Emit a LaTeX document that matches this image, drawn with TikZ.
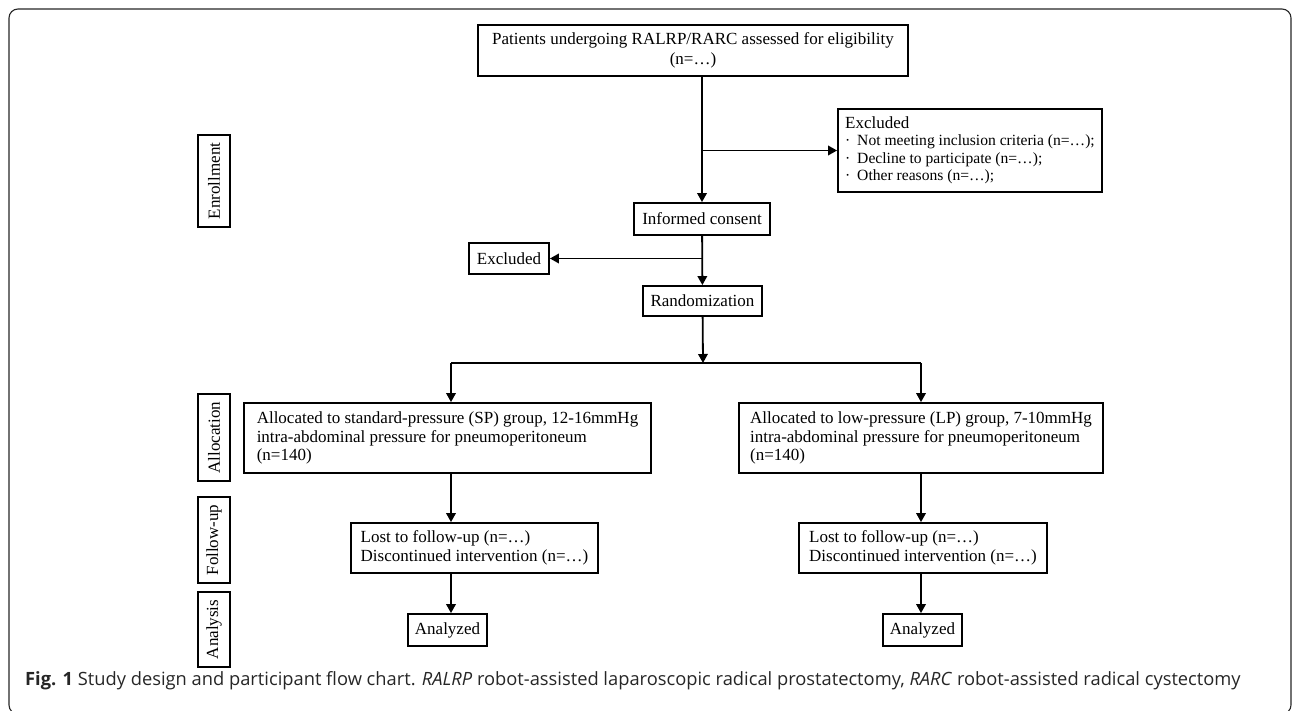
\documentclass[tikz,border=0pt]{standalone}
\usepackage{fontspec}
\setmainfont{Liberation Serif}
\newfontfamily\capfont{Open Sans}
\usetikzlibrary{positioning, arrows.meta}
\newcommand{\exitem}{\fontsize{15.6}{17.5}\selectfont\makebox[12pt][l]{·}}

\begin{document}
\begin{tikzpicture}[
    x=1pt, y=-1pt,
    every node/.style={font=\fontsize{17}{18.5}\selectfont},
    box/.style={rectangle, draw, line width=1.8pt, inner xsep=6pt, inner ysep=3pt, align=center},
    listbox/.style={box, align=left},
    phase/.style={box, rotate=90, minimum height=32pt, inner xsep=2pt},
    arr/.style={-{Triangle[length=9pt, width=9.5pt]}, line width=1.8pt},
    link/.style={line width=1.8pt},
    frame/.style={line width=1.1pt, black!85, rounded corners=9pt},
    caption/.style={font=\capfont\fontsize{18.3}{20}\selectfont, text=black!85, anchor=base west, inner sep=0pt},
]
\path[use as bounding box] (0,0) rectangle (1293,711);
\clip (0,0) rectangle (1293,711);
\draw[frame] (9,9) rectangle (1291,714);

% ---------- enrollment ----------
\node[box, minimum width=430pt, minimum height=51pt, font=\fontsize{17}{20}\selectfont] (screen) at (693,50.5)
     {Patients undergoing RALRP/RARC assessed for eligibility\\(n=…)};
\node[box, minimum width=136pt, minimum height=32pt] (consent) at (702,219) {Informed consent};
\node[listbox, minimum width=264pt, minimum height=83pt, inner xsep=5pt] (exclA) at (970,150.5)
     {Excluded\\[-1.5pt]
      \exitem Not meeting inclusion criteria (n=…);\\[-1pt]
      \exitem Decline to participate (n=…);\\[-1pt]
      \exitem Other reasons (n=…);};
\node[box, minimum width=80pt, minimum height=31pt] (exclB) at (509,258.5) {Excluded};
\node[box, minimum width=119pt, minimum height=30pt] (rand) at (702.5,301) {Randomization};

\draw[arr] (consent.north |- screen.south) -- (consent.north);
\draw[arr] (consent.north |- exclA.west) -- (exclA.west);
\draw[arr] (consent) -- (rand);
\draw[arr] (rand.north |- exclB.east) -- (exclB.east);

% ---------- allocation ----------
\coordinate (split) at (703,363);
\coordinate (splitL) at (451,363);
\coordinate (splitR) at (921,363);
\node[listbox, minimum width=407pt, minimum height=70pt] (sp) at (447.5,438)
     {Allocated to standard-pressure (SP) group, 12-16mmHg\\intra-abdominal pressure for pneumoperitoneum\\(n=140)};
\node[listbox, minimum width=364pt, minimum height=70pt] (lp) at (921,438)
     {Allocated to low-pressure (LP) group, 7-10mmHg\\intra-abdominal pressure for pneumoperitoneum\\(n=140)};

\draw[arr] (rand) -- (split);
\draw[link] (splitL) -- (splitR);
\draw[arr] (splitL) -- (splitL |- sp.north);
\draw[arr] (splitR) -- (splitR |- lp.north);

% ---------- follow-up / analysis ----------
\node[listbox, minimum width=247pt, minimum height=50pt] (fuL) at (474.5,548)
     {Lost to follow-up (n=…)\\Discontinued intervention (n=…)};
\node[listbox, minimum width=248pt, minimum height=50pt] (fuR) at (923,548)
     {Lost to follow-up (n=…)\\Discontinued intervention (n=…)};
\node[box, minimum width=79pt, minimum height=32pt] (anL) at (447.5,630) {Analyzed};
\node[box, minimum width=79pt, minimum height=32pt] (anR) at (922.5,630) {Analyzed};

\draw[arr] (splitL |- sp.south) -- (splitL |- fuL.north);
\draw[arr] (splitL |- fuL.south) -- (splitL |- anL.north);
\draw[arr] (splitR |- lp.south) -- (splitR |- fuR.north);
\draw[arr] (splitR |- fuR.south) -- (splitR |- anR.north);

% ---------- phase labels (left column) ----------
\node[phase, minimum width=92pt] (enrol) at (214,181) {Enrollment};
\node[phase, minimum width=87pt] (alloc) at (214,437.5) {Allocation};
\node[phase, minimum width=86pt] (follow) at (214,540) {Follow-up};
\node[phase, minimum width=75pt] (analysis) at (214,629.5) {Analysis};

% ---------- caption ----------
\node[caption] (cap) at (25,685)
     {\textbf{Fig. 1} Study design and participant flow chart. \textit{RALRP} robot-assisted laparoscopic radical prostatectomy, \textit{RARC} robot-assisted radical cystectomy};

\end{tikzpicture}
\end{document}
